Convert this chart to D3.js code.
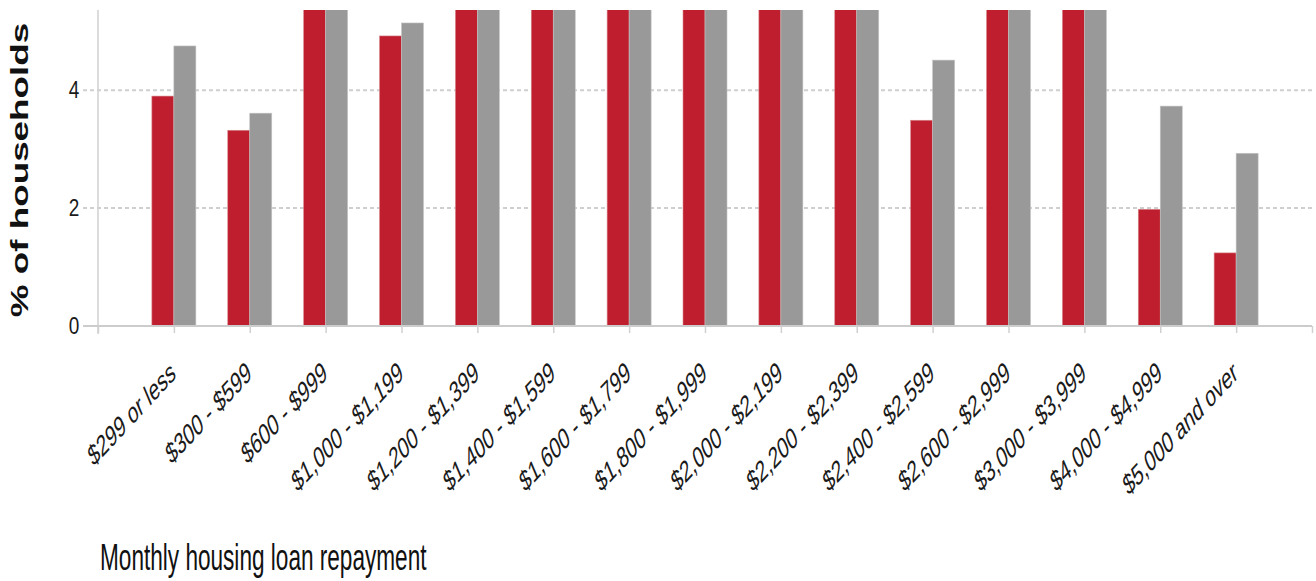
<!DOCTYPE html>
<html>
<head>
<meta charset="utf-8">
<script src="https://cdn.jsdelivr.net/npm/d3@7"></script>
<style>
  body { margin: 0; background: #fff; }
  svg { display: block; }
</style>
</head>
<body>
<script>
// categories on the x axis
var categories = ["$299 or less", "$300 - $599", "$600 - $999", "$1,000 - $1,199",
	"$1,200 - $1,399", "$1,400 - $1,599", "$1,600 - $1,799", "$1,800 - $1,999",
	"$2,000 - $2,199", "$2,200 - $2,399", "$2,400 - $2,599", "$2,600 - $2,999",
	"$3,000 - $3,999", "$4,000 - $4,999", "$5,000 and over"];

// % of households (bars above the top of the plot are cut off in the picture, so those are guesses)
var regionValues = [3.90, 3.32, 9.0, 4.92, 7.5, 6.5, 9.5, 11.5, 10.5, 6.8, 3.49, 10.9, 12.3, 1.98, 1.24];
var australiaValues = [4.75, 3.61, 8.6, 5.14, 7.0, 6.7, 9.0, 9.8, 8.9, 6.3, 4.51, 9.5, 10.8, 3.73, 2.93];

var yTicks = [0, 2, 4];
var yMax = 5.36;

var W = 1316, H = 581;
var plotLeft = 98, plotRight = 1312, plotTop = 10, plotBase = 326;
var stretch = 1.6; // the original picture is stretched vertically

var svg = d3.select("body").append("svg")
	.attr("width", W)
	.attr("height", H);

var xScale = d3.scaleLinear()
	.domain([-1, categories.length])
	.range([plotLeft, plotRight]);

var yScale = d3.scaleLinear()
	.domain([0, yMax])
	.range([plotBase, plotTop]);

var series = d3.scaleBand()
	.domain(["region", "australia"])
	.range([-22, 22]);

var color = d3.scaleOrdinal()
	.domain(["region", "australia"])
	.range(["#be1e2d", "#999999"]);

// grid lines
svg.selectAll(".grid")
	.data(yTicks.filter(function(d) { return d > 0; }))
	.enter().append("line")
	.attr("class", "grid")
	.attr("x1", plotLeft - 15)
	.attr("x2", plotRight)
	.attr("y1", function(d) { return yScale(d); })
	.attr("y2", function(d) { return yScale(d); })
	.attr("stroke", "#cfcfcf")
	.attr("stroke-width", 2)
	.style("stroke-dasharray", "4, 3");

svg.append("clipPath")
	.attr("id", "plotClip")
	.append("rect")
	.attr("x", plotLeft)
	.attr("y", plotTop)
	.attr("width", plotRight - plotLeft)
	.attr("height", plotBase - plotTop);

var bars = svg.append("g").attr("clip-path", "url(#plotClip)");

var barData = [];
categories.forEach(function(c, i) {
	barData.push({ i: i, key: "region", value: regionValues[i] });
	barData.push({ i: i, key: "australia", value: australiaValues[i] });
});

bars.selectAll("rect")
	.data(barData)
	.enter().append("rect")
	.attr("x", function(d) { return xScale(d.i) + series(d.key); })
	.attr("width", series.bandwidth())
	.attr("y", function(d) { return yScale(d.value); })
	.attr("height", function(d) { return yScale(0) - yScale(d.value); })
	.attr("fill", function(d) { return color(d.key); })
	.attr("stroke", function(d) { return d.key == "region" ? "#d98a90" : "#c4c4c4"; })
	.attr("stroke-width", 0.6);

// y axis line
svg.append("line")
	.attr("x1", plotLeft).attr("x2", plotLeft)
	.attr("y1", plotTop).attr("y2", plotBase + 8)
	.attr("stroke", "#d0d0d0")
	.attr("stroke-width", 1.5);

// x axis
var xAxis = d3.axisBottom(xScale)
	.tickValues(d3.range(-1, categories.length + 1))
	.tickSize(7)
	.tickFormat("");

var gx = svg.append("g")
	.attr("transform", "translate(0," + plotBase + ")")
	.call(xAxis);
gx.select(".domain").attr("stroke", "#cccccc").attr("stroke-width", 2)
	.attr("d", "M" + (plotLeft - 15) + ",0H" + plotRight);
gx.selectAll(".tick line").attr("stroke", "#d0d0d0").attr("stroke-width", 1.5);

// x labels
svg.selectAll(".xlabel")
	.data(categories)
	.enter().append("text")
	.attr("class", "xlabel")
	.attr("text-anchor", "end")
	.attr("transform", function(d, i) {
		return "translate(" + (xScale(i) + 3) + "," + (plotBase + 51) + ") scale(1," + stretch + ") rotate(-34)";
	})
	.style("font-family", "Liberation Sans, Arial, sans-serif")
	.style("font-size", "18.5px")
	.attr("fill", "#1a1a1a")
	.text(function(d) { return d; });

// y tick labels
svg.selectAll(".ylabel")
	.data(yTicks)
	.enter().append("text")
	.attr("class", "ylabel")
	.attr("text-anchor", "middle")
	.attr("transform", function(d) {
		return "translate(74," + (yScale(d) + 8) + ") scale(1,1.25)";
	})
	.style("font-family", "Liberation Sans, Arial, sans-serif")
	.style("font-size", "19px")
	.attr("fill", "#1a1a1a")
	.text(function(d) { return d; });

// y title
svg.append("text")
	.attr("text-anchor", "middle")
	.attr("transform", "translate(28,170) scale(1," + stretch + ") rotate(-90)")
	.style("font-family", "Liberation Sans, Arial, sans-serif")
	.style("font-size", "23px")
	.style("font-weight", "bold")
	.attr("fill", "#111")
	.text("% of households");

// x title
svg.append("text")
	.attr("transform", "translate(100,570) scale(1,1.6)")
	.style("font-family", "Liberation Sans Narrow, Liberation Sans, Arial, sans-serif")
	.style("font-size", "22.6px")
	.attr("fill", "#111")
	.text("Monthly housing loan repayment");
</script>
</body>
</html>
